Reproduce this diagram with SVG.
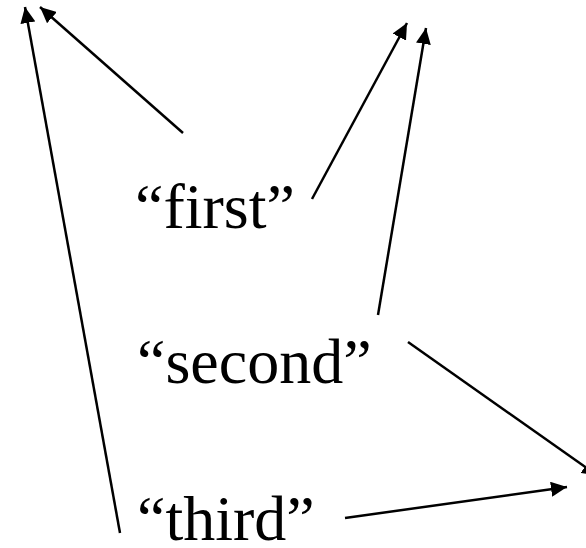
<svg xmlns="http://www.w3.org/2000/svg" width="586" height="548" viewBox="0 0 586 548">
<style>
.lbl{font-family:"Liberation Serif","Times New Roman",serif;font-size:64px;fill:#000}
.conn{stroke:#000;stroke-width:2.5;fill:none;marker-end:url(#ah)}
</style>
<defs>
<marker id="ah" markerUnits="userSpaceOnUse" markerWidth="16" markerHeight="15" refX="16" refY="7.5" orient="auto">
<path d="M0,0 L16,7.5 L0,15 z" fill="#000"/>
</marker>
</defs>
<rect width="586" height="548" fill="#fff"/>
<g id="connectors">
<line class="conn" x1="120" y1="533" x2="25" y2="7"/>
<line class="conn" x1="183" y1="133" x2="40" y2="7"/>
<line class="conn" x1="312" y1="199" x2="407" y2="23"/>
<line class="conn" x1="378" y1="315" x2="426" y2="28"/>
<line class="conn" x1="408" y1="342" x2="598" y2="476"/>
<line class="conn" x1="345" y1="518" x2="567" y2="487"/>
</g>
<g id="first"><text class="lbl" x="135" y="228">“first”</text></g>
<g id="second"><text class="lbl" x="137" y="383">“second”</text></g>
<g id="third"><text class="lbl" x="137" y="540">“third”</text></g>
</svg>
